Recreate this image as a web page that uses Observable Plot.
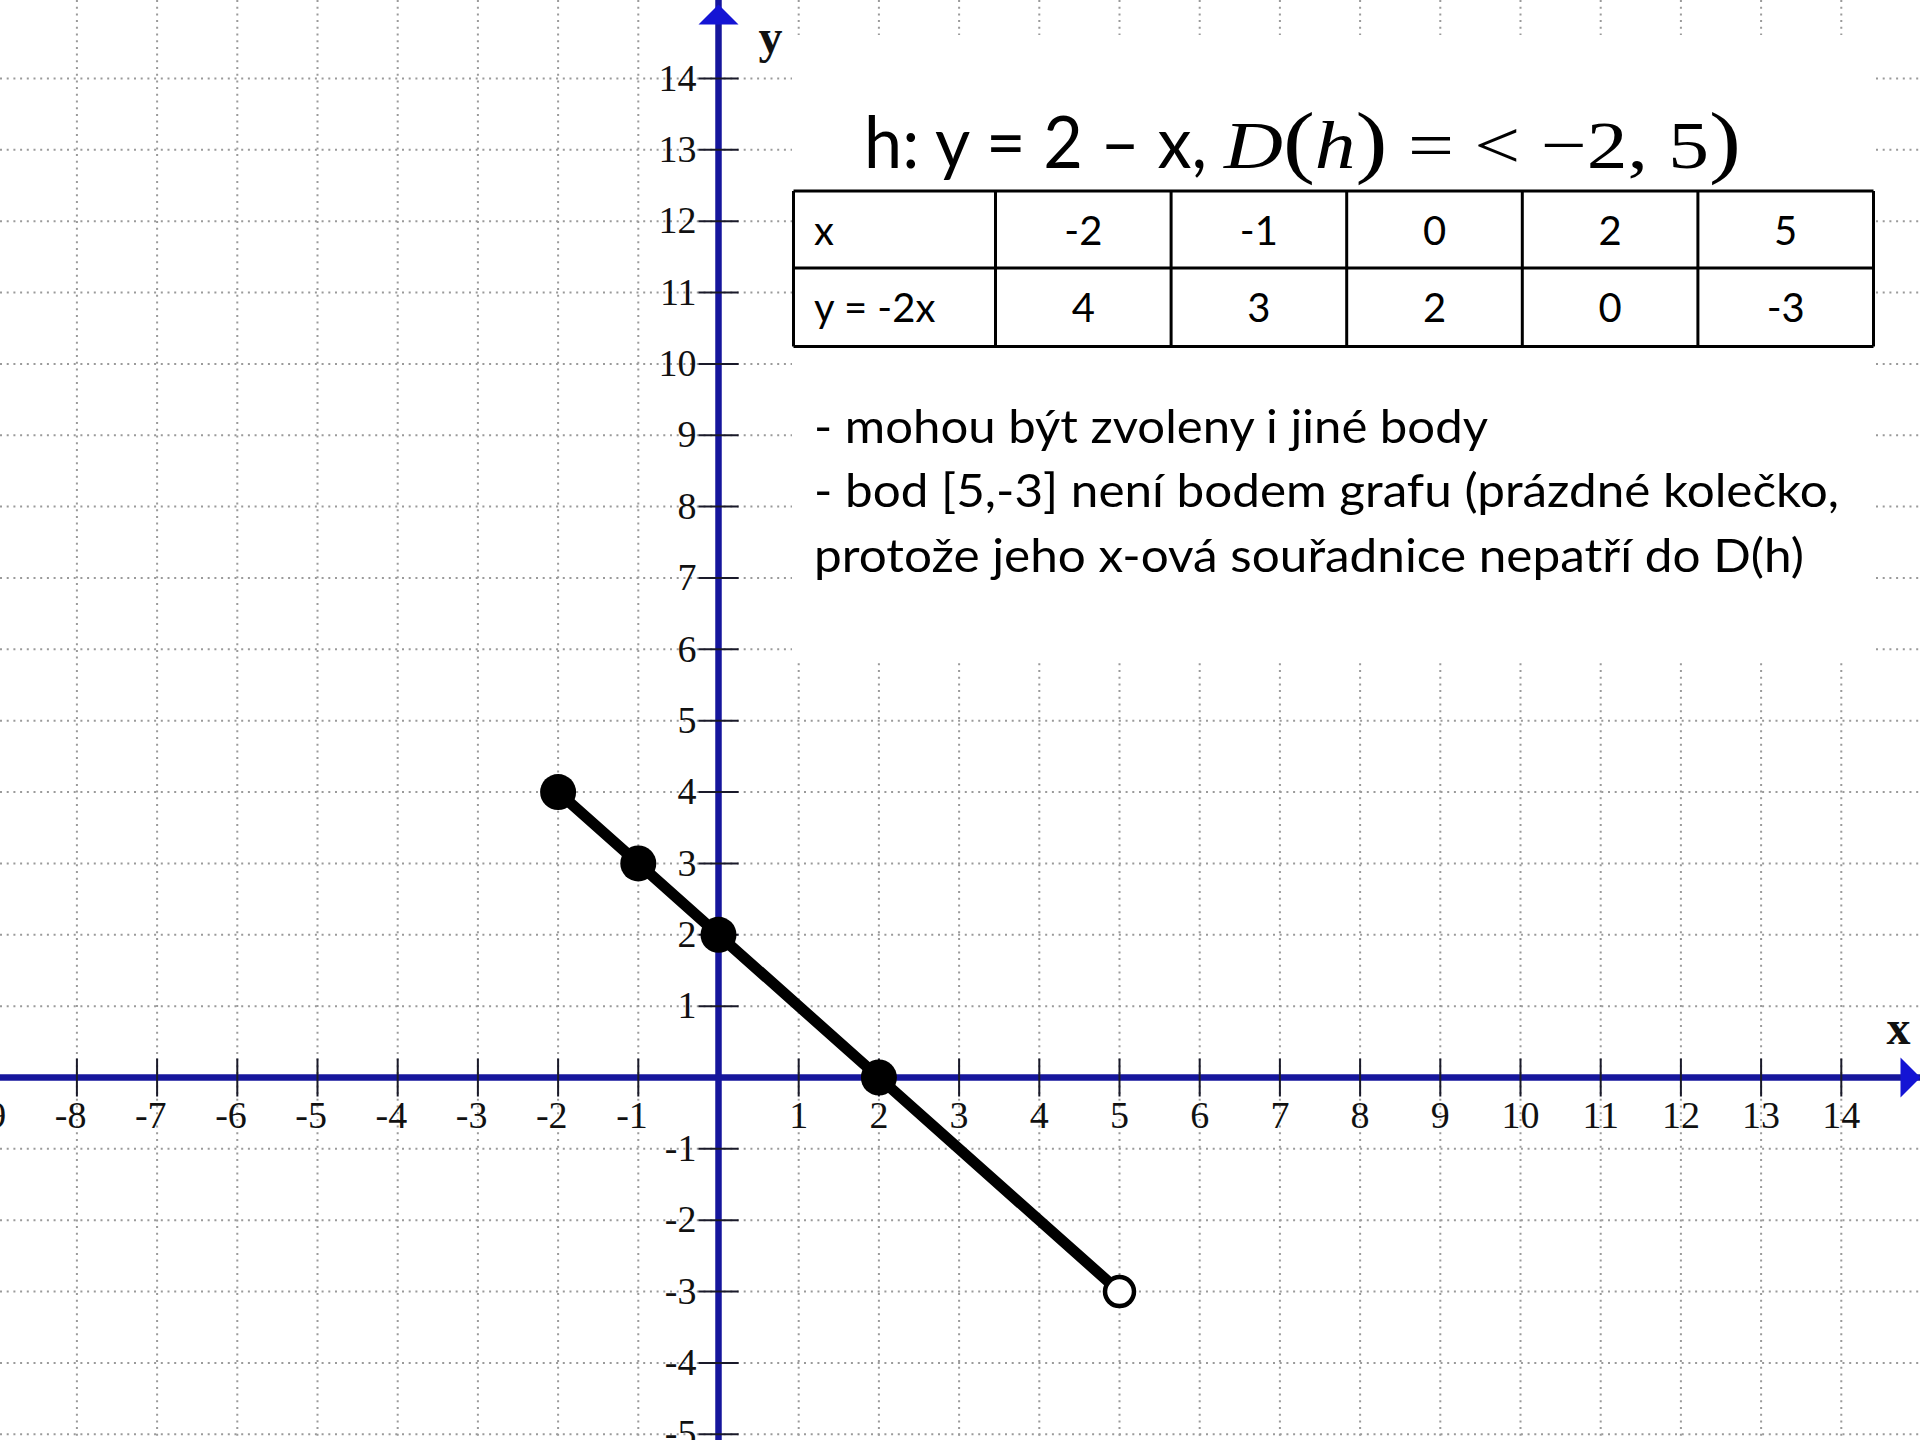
<!DOCTYPE html>
<html>
<head>
<meta charset="utf-8">
<script src="https://cdn.jsdelivr.net/npm/d3@7"></script>
<script src="https://cdn.jsdelivr.net/npm/@observablehq/plot@0.6"></script>
<style>
  body { margin: 0; background: #fff; }
  #wrap { position: relative; width: 1920px; height: 1440px; overflow: hidden; background: #fff; }
  #wrap svg { position: absolute; left: 0; top: 0; }
</style>
</head>
<body>
<div id="wrap"></div>
<script>
// Points of h: y = 2 − x chosen for the value table
const xValues = [-2, -1, 0, 2, 5];
const yValues = [4, 3, 2, 0, -3];
// 5 is not in D(h) = <−2, 5), so that end point is drawn as an empty circle
const pointIncluded = [true, true, true, true, false];

// Axis ticks, labels and grid
const xTicks = [-9, -8, -7, -6, -5, -4, -3, -2, -1, 1, 2, 3, 4, 5, 6, 7, 8, 9, 10, 11, 12, 13, 14];
const yTicks = [-5, -4, -3, -2, -1, 1, 2, 3, 4, 5, 6, 7, 8, 9, 10, 11, 12, 13, 14];
const xGrid = [-8, -7, -6, -5, -4, -3, -2, -1, 0, 1, 2, 3, 4, 5, 6, 7, 8, 9, 10, 11, 12, 13, 14];
const yGrid = [-5, -4, -3, -2, -1, 0, 1, 2, 3, 4, 5, 6, 7, 8, 9, 10, 11, 12, 13, 14];

// Slide text
const titleLead = "h: y = 2 – x,";
// [text, italic, enlarged bracket]
const titleMath = [["D", true, false], ["(", false, true], ["h", true, false], [")", false, true], [" = < −2, 5", false, false], [")", false, true]];
const rowLabels = ["x", "y = -2x"];
const noteLines = [
  "- mohou být zvoleny i jiné body",
  "- bod [5,-3] není bodem grafu (prázdné kolečko,",
  "protože jeho x-ová souřadnice nepatří do D(h)"
];

const points = xValues.map((x, i) => ({x, y: yValues[i], included: pointIncluded[i]}));

// Pixel layout of the coordinate plane
const W = 1920, H = 1440;
const originX = 718, originY = 1077, unitX = 80.2, unitY = 71.36;
const xDomain = [-originX / unitX, (W - originX) / unitX];
const yDomain = [-(H - originY) / unitY, originY / unitY];

const axisBlue = "#16169c";
const arrowBlue = "#1414d4";
const gridGray = "#9a9a9a";
const labelFont = "Liberation Serif";

// Custom symbols: arrow head (points up, rotated for the x axis) and tick strokes
const arrowHead = {draw(ctx) { ctx.moveTo(0, -10); ctx.lineTo(20, 10); ctx.lineTo(-20, 10); ctx.closePath(); }};
const tickV = {draw(ctx) { ctx.moveTo(0, -19); ctx.lineTo(0, 19); }};
const tickH = {draw(ctx) { ctx.moveTo(-20, 0); ctx.lineTo(20, 0); }};

const chart = Plot.plot({
  width: W,
  height: H,
  margin: 0,
  x: {domain: xDomain, axis: null},
  y: {domain: yDomain, axis: null},
  marks: [
    // dotted grid
    Plot.ruleX(xGrid, {stroke: gridGray, strokeWidth: 2, strokeDasharray: "2 4.7"}),
    Plot.ruleY(yGrid, {stroke: gridGray, strokeWidth: 2, strokeDasharray: "2 4.7"}),
    // axes
    Plot.ruleY([0], {stroke: axisBlue, strokeWidth: 6.5}),
    Plot.ruleX([0], {stroke: axisBlue, strokeWidth: 6.5}),
    Plot.dot([0], {x: () => 0, y: () => yDomain[1], symbol: arrowHead, r: 10, fill: arrowBlue, stroke: null, dy: 14}),
    Plot.dot([0], {x: () => xDomain[1], y: () => 0, symbol: arrowHead, r: 10, fill: arrowBlue, stroke: null, rotate: 90, dx: -10}),
    // tick marks
    Plot.dot(xTicks, {x: d => d, y: () => 0, symbol: tickV, r: 10, fill: null, stroke: "#1a1a2a", strokeWidth: 2}),
    Plot.dot(yTicks, {x: () => 0, y: d => d, symbol: tickH, r: 10, fill: null, stroke: "#1a1a2a", strokeWidth: 2}),
    // tick labels
    Plot.text(xTicks.filter(d => d < 0), {x: d => d, y: () => 0, text: d => String(d), textAnchor: "end", dx: 9.5, dy: 38, fontSize: 38, fontFamily: labelFont, fill: "#111"}),
    Plot.text(xTicks.filter(d => d > 0), {x: d => d, y: () => 0, text: d => String(d), textAnchor: "middle", dy: 38, fontSize: 38, fontFamily: labelFont, fill: "#111"}),
    Plot.text(yTicks, {x: () => 0, y: d => d, text: d => String(d), textAnchor: "end", dx: -22, fontSize: 38, fontFamily: labelFont, fill: "#111"}),
    // axis names
    Plot.text(["y"], {x: () => 0, y: () => yDomain[1], text: d => d, dx: 52, dy: 37, fontSize: 48, fontWeight: "bold", fontFamily: labelFont, fill: "#111"}),
    Plot.text(["x"], {x: () => xDomain[1], y: () => 0, text: d => d, dx: -22, dy: -49, fontSize: 48, fontWeight: "bold", fontFamily: labelFont, fill: "#111"}),
    // the graph of h
    Plot.line(points, {x: "x", y: "y", stroke: "#000", strokeWidth: 11}),
    Plot.dot(points.filter(d => d.included), {x: "x", y: "y", r: 18, fill: "#000", stroke: null}),
    Plot.dot(points.filter(d => !d.included), {x: "x", y: "y", r: 14.5, fill: "#fff", stroke: "#000", strokeWidth: 4.5})
  ]
});
document.getElementById("wrap").append(chart);

// Text panel with the definition, the value table and the notes
const note = d3.select("#wrap").append("svg")
  .attr("width", W).attr("height", H)
  .attr("font-family", "Lato");

note.append("rect").attr("x", 792).attr("y", 35).attr("width", 1080).attr("height", 627).attr("fill", "#fff");

note.append("text")
  .attr("x", 864).attr("y", 168)
  .attr("font-size", 72)
  .attr("textLength", 343).attr("lengthAdjust", "spacingAndGlyphs")
  .text(titleLead);

const math = note.append("text")
  .attr("x", 1224).attr("y", 168)
  .attr("font-family", "Liberation Serif")
  .attr("font-size", 68)
  .attr("textLength", 517).attr("lengthAdjust", "spacingAndGlyphs");
titleMath.forEach(([t, italic, big]) => math.append("tspan")
  .attr("font-style", italic ? "italic" : "normal")
  .attr("font-size", big ? 80 : null)
  .text(t));

// value table
const tableLeft = 793.5, firstColRight = 995.5, tableRight = 1873.5;
const rowEdges = [191, 268, 346.5];
const colWidth = (tableRight - firstColRight) / xValues.length;
const colEdges = [tableLeft, ...xValues.map((_, i) => firstColRight + i * colWidth), tableRight];
const tableRows = [xValues, yValues];

const grid = note.append("g").attr("stroke", "#000").attr("stroke-width", 3);
rowEdges.forEach(y => grid.append("line").attr("x1", tableLeft).attr("x2", tableRight).attr("y1", y).attr("y2", y));
colEdges.forEach(x => grid.append("line").attr("x1", x).attr("x2", x).attr("y1", rowEdges[0]).attr("y2", rowEdges[2]));

tableRows.forEach((row, r) => {
  const base = (rowEdges[r] + rowEdges[r + 1]) / 2 + 15;
  note.append("text").attr("x", 814).attr("y", base).attr("font-size", 40).text(rowLabels[r]);
  row.forEach((v, i) => {
    note.append("text")
      .attr("x", (colEdges[i + 1] + colEdges[i + 2]) / 2)
      .attr("y", base)
      .attr("text-anchor", "middle")
      .attr("font-size", 40)
      .text(String(v));
  });
});

// notes
const noteWidths = [674, 1025, 990];
const noteBaselines = [443, 507, 572];
noteLines.forEach((t, i) => {
  note.append("text")
    .attr("x", 814).attr("y", noteBaselines[i])
    .attr("font-size", 47)
    .attr("textLength", noteWidths[i]).attr("lengthAdjust", "spacingAndGlyphs")
    .text(t);
});
</script>
</body>
</html>
